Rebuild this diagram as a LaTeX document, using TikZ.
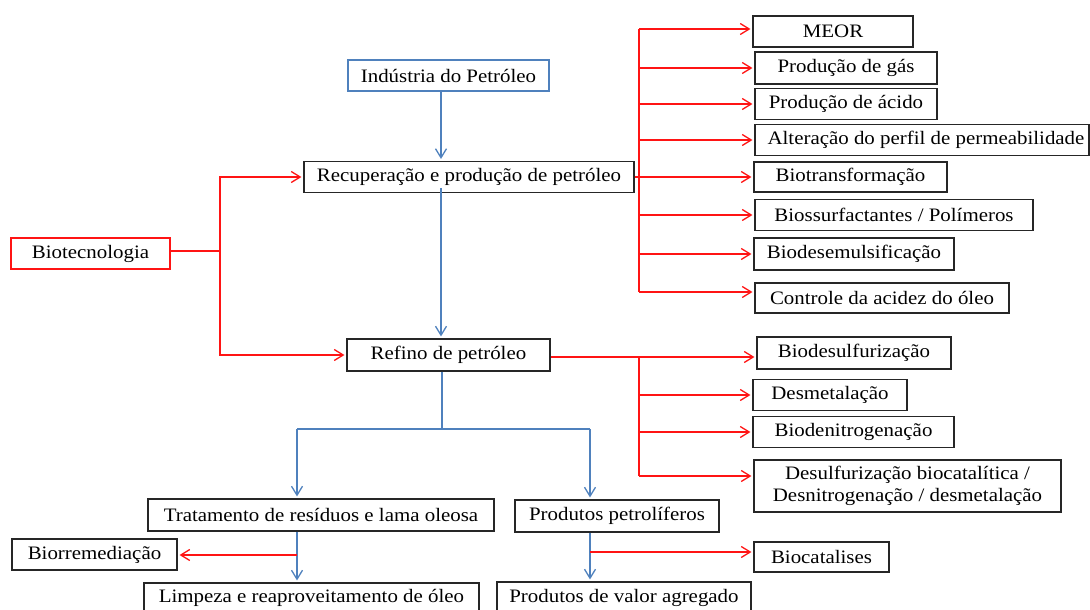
\documentclass[tikz,border=0pt]{standalone}
\usepackage{fontspec}
\setmainfont{Liberation Serif}[FakeStretch=1.1]
\usetikzlibrary{arrows.meta}
\definecolor{lblue}{RGB}{79,129,189}
\definecolor{lred}{RGB}{255,20,20}
\begin{document}
\begin{tikzpicture}[x=1pt,y=-1pt,
  bx/.style={draw=black!85,line width=1.1pt,inner sep=0pt,align=center,
    font=\fontsize{19}{22}\selectfont},
  blu/.style={draw=lblue,line width=1.5pt},
  rd/.style={draw=lred,line width=1.5pt},
  tip/.style={-{Straight Barb[length=9pt,width=11pt,line width=1.3pt]},shorten >=2pt}]
\useasboundingbox (0,0) rectangle (1090,610);
% main column
\node[bx,draw=lblue,minimum width=201,minimum height=31] (ind) at (448.5,75.5) {Indústria do Petróleo};
\node[bx,minimum width=330,minimum height=31] (rec) at (469,177) {Recuperação e produção de petróleo};
\node[bx,draw=lred,minimum width=159,minimum height=31] (bio) at (90.5,253.5) {Biotecnologia};
\node[bx,minimum width=203,minimum height=32] (ref) at (448.5,355) {Refino de petróleo};
\node[bx,minimum width=346,minimum height=32] (trat) at (321,515) {Tratamento de resíduos e lama oleosa};
\node[bx,minimum width=204,minimum height=32] (prodp) at (617,516) {Produtos petrolíferos};
\node[bx,minimum width=165,minimum height=31] (biorr) at (94.5,554.5) {Biorremediação};
\node[bx,minimum width=335,minimum height=30] (limp) at (311.5,598) {Limpeza e reaproveitamento de óleo};
\node[bx,minimum width=254,minimum height=31] (prodv) at (624,597.5) {Produtos de valor agregado};
\node[bx,minimum width=135,minimum height=30] (bioc) at (821.5,557) {Biocatalises};
% right column top
\node[bx,minimum width=160,minimum height=31] (meor) at (833,31.5) {MEOR};
\node[bx,minimum width=182,minimum height=32] (gas) at (846,68) {Produção de gás};
\node[bx,minimum width=182,minimum height=31] (acido) at (846,104) {Produção de ácido};
\node[bx,minimum width=334,minimum height=31] (alt) at (922,140) {\hspace*{8pt}Alteração do perfil de permeabilidade};
\node[bx,minimum width=193,minimum height=30] (biot) at (850.5,177) {Biotransformação};
\node[bx,minimum width=278,minimum height=31] (bios) at (894,215) {Biossurfactantes / Polímeros};
\node[bx,minimum width=200,minimum height=32] (biod) at (854,254) {Biodesemulsificação};
\node[bx,minimum width=254,minimum height=30] (contr) at (882,298) {Controle da acidez do óleo};
% right column bottom
\node[bx,minimum width=194,minimum height=32] (bdes) at (854,353) {Biodesulfurização};
\node[bx,minimum width=154,minimum height=31] (desm) at (830,395) {Desmetalação};
\node[bx,minimum width=201,minimum height=31] (bden) at (853.5,432) {Biodenitrogenação};
\node[bx,minimum width=307,minimum height=52] (desul) at (907.5,486) {Desulfurização biocatalítica /\\Desnitrogenação / desmetalação};
% helper coordinates
\coordinate (xa) at (441,0);
\coordinate (xb) at (442,0);
\coordinate (xl) at (297,0);
\coordinate (xr) at (590,0);
\coordinate (xt) at (639,0);
\coordinate (jL) at (297,429);
\coordinate (jR) at (590,429);
\coordinate (jM) at (442,429);
% blue main flow
\draw[blu,tip] (ind.south -| xa) -- (rec.north -| xa);
\draw[blu,tip] ([yshift=5pt]rec.south -| xa) -- (ref.north -| xa);
\draw[blu] (ref.south -| xb) -- (jM);
\draw[blu] (jL) -- (jR);
\draw[blu,tip] (jL) -- (trat.north -| jL);
\draw[blu,tip] (jR) -- (prodp.north -| jR);
\draw[blu,tip] (trat.south -| xl) -- (limp.north -| xl);
\draw[blu,tip] (prodp.south -| xr) -- (prodv.north -| xr);
% red side branches
\coordinate (rb1) at (297,555);
\coordinate (rb2) at (590,552);
\draw[rd,tip] (rb1) -- (biorr.east |- rb1);
\draw[rd,tip] (rb2) -- (bioc.west |- rb2);
% biotecnologia
\coordinate (bj) at (220,251);
\draw[rd] (bio.east |- bj) -- (bj);
\draw[rd,tip] (bj) |- (rec.west);
\draw[rd,tip] (bj) |- (ref.west);
% recuperacao fan
\coordinate (t1) at (639,29);
\coordinate (t2) at (639,292);
\draw[rd] (t1) -- (t2);
\draw[rd,tip] (rec.east |- biot.west) -- (biot.west);
\draw[rd,tip] (t1) -- (t1 -| meor.west);
\draw[rd,tip] (xt |- gas.west) -- (gas.west);
\draw[rd,tip] (xt |- acido.west) -- (acido.west);
\draw[rd,tip] (xt |- alt.west) -- (alt.west);
\draw[rd,tip] (xt |- bios.west) -- (bios.west);
\draw[rd,tip] (xt |- biod.west) -- (biod.west);
\draw[rd,tip] (t2) -- (t2 -| contr.west);
% refino fan
\coordinate (u1) at (639,357);
\coordinate (u2) at (639,476);
\draw[rd] (u1) -- (u2);
\draw[rd,tip] (ref.east |- u1) -- (u1 -| bdes.west);
\draw[rd,tip] (xt |- desm.west) -- (desm.west);
\draw[rd,tip] (xt |- bden.west) -- (bden.west);
\draw[rd,tip] (u2) -- (u2 -| desul.west);
\end{tikzpicture}
\end{document}
